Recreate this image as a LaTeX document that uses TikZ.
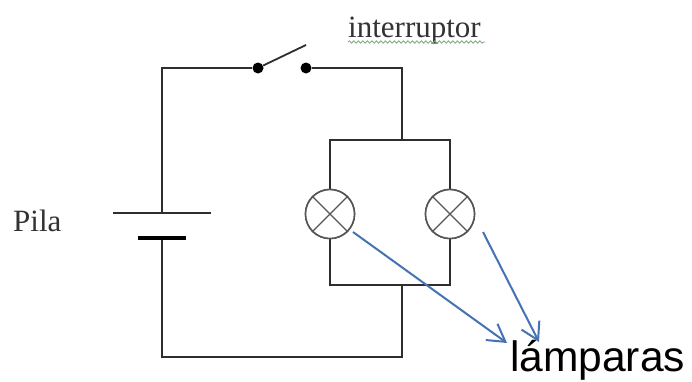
\documentclass[tikz,border=0pt]{standalone}
\usepackage{fontspec}
\setmainfont{Liberation Serif}
\newfontfamily\arialfont{Liberation Sans}
\usetikzlibrary{arrows.meta,decorations.pathmorphing}
\definecolor{wire}{HTML}{2E2E2E}
\definecolor{lamp}{HTML}{555555}
\definecolor{pointer}{HTML}{4472B4}
\definecolor{squiggle}{HTML}{7FA97F}
\tikzset{
  wireline/.style={draw=wire,line width=1.8pt},
  lampbulb/.style={circle,draw=lamp,line width=1.6pt,minimum size=49pt,inner sep=0pt,fill=white},
  contact/.style={circle,fill=black,minimum size=11pt,inner sep=0pt},
  pointerline/.style={draw=pointer,line width=2pt,-{Straight Barb[length=17pt,width=20pt,line width=2pt]}},
  serifLabel/.style={font=\fontsize{31}{31}\selectfont,text=black!80,inner sep=0pt,anchor=base west},
}
\begin{document}
\begin{tikzpicture}[x=1pt,y=-1pt]
\useasboundingbox[fill=white] (0,0) rectangle (692,381);
% junction and corner coordinates
\coordinate (tl) at (162,68);
\coordinate (tr) at (402,68);
\coordinate (ptop) at (402,140);
\coordinate (ptl) at (330,140);
\coordinate (ptr) at (450,140);
\coordinate (pbot) at (402,285);
\coordinate (pbl) at (330,285);
\coordinate (pbr) at (450,285);
\coordinate (bl) at (162,357);
\coordinate (br) at (402,357);
\coordinate (bladeend) at (306,45);
\coordinate (pa) at (353,232);
\coordinate (pb) at (483,232);
\coordinate (ah) at (507,343);
\coordinate (bh) at (539,342);
% components
\node[lampbulb] (l1) at (330,214) {};
\node[lampbulb] (l2) at (450,214) {};
\node[contact] (s1) at (258,68) {};
\node[contact] (s2) at (306,68) {};
\coordinate (plateA) at (162,213);
\coordinate (plateAl) at (113,213);
\coordinate (plateAr) at (211,213);
\coordinate (plateB) at (162,238);
\coordinate (plateBl) at (138,238);
\coordinate (plateBr) at (186,238);
% wires
\draw[wireline] (plateA) -- (tl) -- (s1);
\draw[wireline] (s2) -- (tr) -- (ptop);
\draw[wireline] (s1) -- (bladeend);
\draw[wireline] (l1) -- (ptl) -- (ptr) -- (l2);
\draw[wireline] (l1) -- (pbl) -- (pbr) -- (l2);
\draw[wireline] (pbot) -- (br) -- (bl) -- (plateB);
\draw[wireline] (plateAl) -- (plateAr);
\draw[draw=black,line width=4.5pt] (plateBl) -- (plateBr);
% lamps on top of the wires
\node[lampbulb] (l1c) at (330,214) {};
\node[lampbulb] (l2c) at (450,214) {};
\foreach \n in {l1c,l2c}{
  \draw[draw=lamp,line width=1.3pt] (\n.45) -- (\n.225) (\n.135) -- (\n.315);
}
% labels
\node[serifLabel] (pila) at (13,231) {Pila};
\node[serifLabel] (intr) at (348,37) {interruptor};
\draw[draw=squiggle,line width=.8pt,decorate,decoration={snake,amplitude=1.2pt,segment length=4.5pt}] (348,42) -- (485,42);
\node[font=\arialfont\fontsize{42.5}{42.5}\selectfont,text=black,inner sep=0pt,anchor=base west] (lamparas) at (510,371) {lámparas};
% pointers
\draw[pointerline] (pa) -- (ah);
\draw[pointerline] (pb) -- (bh);
\end{tikzpicture}
\end{document}
